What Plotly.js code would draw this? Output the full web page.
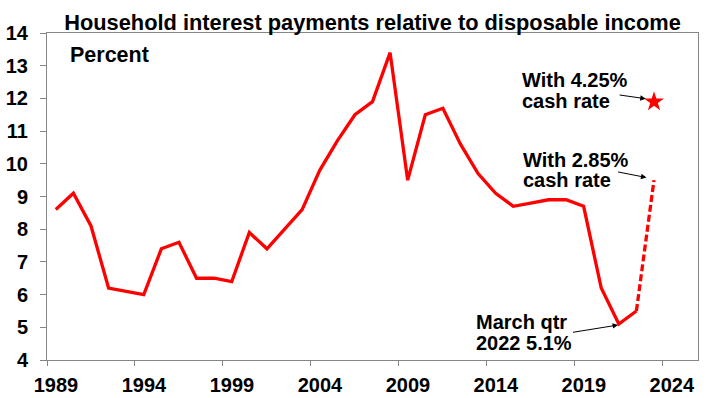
<!DOCTYPE html>
<html>
<head>
<meta charset="utf-8">
<script src="https://cdn.plot.ly/plotly-3.0.1.min.js"></script>
<style>html,body{margin:0;padding:0;background:#fff;}#chart{width:720px;height:398px;}</style>
</head>
<body>
<div id="chart"></div>
<script>
// Annual observations (plotted at mid-year)
var years = [1989,1990,1991,1992,1993,1994,1995,1996,1997,1998,1999,2000,2001,2002,2003,2004,2005,2006,2007,2008,2009,2010,2011,2012,2013,2014,2015,2016,2017,2018,2019,2020,2021,2022];
var interestPct = [8.6,9.1,8.1,6.2,6.1,6.0,7.4,7.6,6.5,6.5,6.4,7.9,7.4,8.0,8.6,9.8,10.7,11.5,11.9,13.4,9.5,11.5,11.7,10.6,9.7,9.1,8.7,8.8,8.9,8.9,8.7,6.2,5.1,5.5];
// Projection with 2.85% cash rate
var projYears = [2022, 2023];
var projPct = [5.5, 9.5];
// Projection with 4.25% cash rate
var starYears = [2023];
var starPct = [11.9];
var xTickYears = [1989,1994,1999,2004,2009,2014,2019,2024];

var mid = function(arr){ return arr.map(function(y){ return y + 0.5; }); };
var RED = '#FF0000';
var FONT = 'Liberation Sans, Arial, sans-serif';

var traces = [
  {x: mid(years), y: interestPct, type: 'scatter', mode: 'lines',
   line: {color: RED, width: 3.3}, hoverinfo: 'skip'},
  {x: mid(projYears), y: projPct, type: 'scatter', mode: 'lines',
   line: {color: RED, width: 3.3, dash: '7px,3px'}, hoverinfo: 'skip'},
  {x: mid(starYears), y: starPct, type: 'scatter', mode: 'markers',
   marker: {symbol: 'star', size: 15, color: RED}, hoverinfo: 'skip'}
];

function txt(t, x, y){
  return {text: t, x: x, y: y, xref: 'x', yref: 'y', xanchor: 'left', yanchor: 'middle',
          showarrow: false, font: {family: FONT, size: 20, weight: 'bold', color: '#000'}};
}
function arr(x0, y0, x1, y1){
  return {text: '', x: x1, y: y1, ax: x0, ay: y0, xref: 'x', yref: 'y', axref: 'x', ayref: 'y',
          showarrow: true, arrowhead: 2, arrowsize: 1.1, arrowwidth: 1, arrowcolor: '#000', standoff: 0};
}

var layout = {
  width: 720, height: 398,
  margin: {l: 47, r: 22, t: 33, b: 38},
  paper_bgcolor: '#fff', plot_bgcolor: '#fff',
  showlegend: false,
  font: {family: FONT, size: 20, color: '#000', weight: 'bold'},
  title: {text: 'Household interest payments relative to disposable income',
          font: {family: FONT, size: 21.8, weight: 'bold', color: '#000'},
          xref: 'paper', x: 0.5, xanchor: 'center', yref: 'container', y: 0.945, yanchor: 'middle'},
  xaxis: {type: 'linear', range: [1989, 2026], tickvals: xTickYears, ticktext: xTickYears.map(String),
          ticks: 'outside', ticklen: 5, tickcolor: '#868686', tickwidth: 1,
          showline: true, mirror: true, linecolor: '#868686', linewidth: 1,
          showgrid: false, zeroline: false, ticklabelshift: 9, ticklabelstandoff: 2,
          tickfont: {family: FONT, size: 20, weight: 'bold', color: '#000'}},
  yaxis: {range: [4, 14], tickvals: [4,5,6,7,8,9,10,11,12,13,14],
          ticks: 'outside', ticklen: 6, tickcolor: '#868686', tickwidth: 1,
          showline: true, mirror: true, linecolor: '#868686', linewidth: 1,
          showgrid: false, zeroline: false, ticklabelstandoff: 8,
          tickfont: {family: FONT, size: 20, weight: 'bold', color: '#000'}},
  annotations: [
    {text: 'Percent', xref: 'paper', yref: 'paper', x: 0.033, y: 0.934, xanchor: 'left', yanchor: 'middle',
     showarrow: false, font: {family: FONT, size: 21.5, weight: 'bold', color: '#000'}},
    txt('With 4.25%', 2015.9, 12.57),
    txt('cash rate', 2015.9, 11.93),
    txt('With 2.85%', 2015.95, 10.12),
    txt('cash rate', 2015.95, 9.49),
    txt('March qtr', 2013.25, 5.17),
    txt('2022 5.1%', 2013.25, 4.51),
    arr(2021.46, 12.11, 2023.03, 11.99),
    arr(2021.37, 9.76, 2023.07, 9.58),
    arr(2018.81, 4.84, 2021.46, 5.07)
  ]
};

Plotly.newPlot('chart', traces, layout, {staticPlot: true, displayModeBar: false});
</script>
</body>
</html>
